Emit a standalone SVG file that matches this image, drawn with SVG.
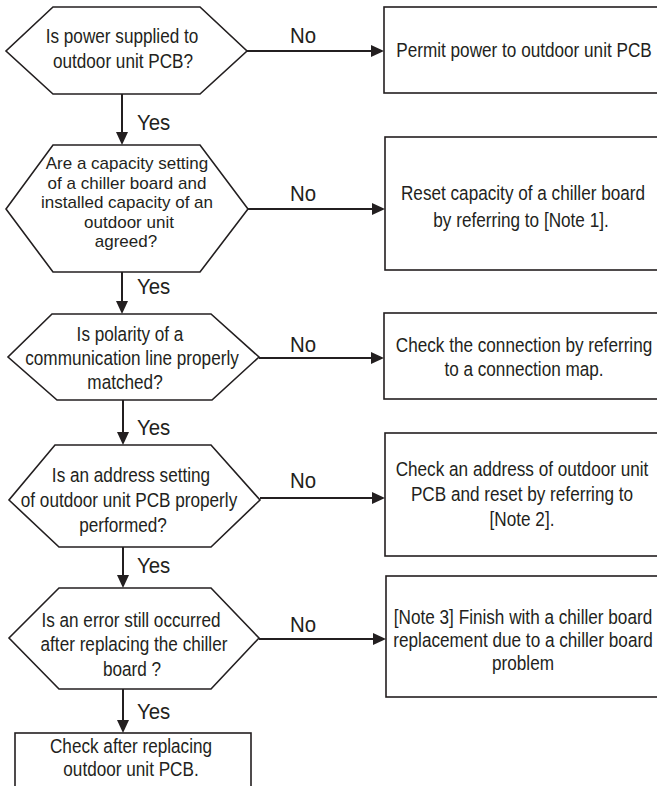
<svg xmlns="http://www.w3.org/2000/svg" width="657" height="786" viewBox="0 0 657 786">
<style>
.shape{fill:#fff;stroke:#231f20;stroke-width:1.6}
.t{font-family:"Liberation Sans",Arial,sans-serif;font-size:19.5px;fill:#231f20;text-anchor:middle}
.ts{font-family:"Liberation Sans",Arial,sans-serif;font-size:17px;fill:#231f20;text-anchor:middle}
.lbl{font-family:"Liberation Sans",Arial,sans-serif;font-size:21.5px;fill:#231f20}
.conn{fill:none;stroke:#231f20;stroke-width:2}
</style>
<defs>
<marker id="ah" markerUnits="userSpaceOnUse" markerWidth="13" markerHeight="12" viewBox="0 0 13 12" refX="11" refY="6" orient="auto">
<path d="M0,0 L13,6 L0,12 Z" fill="#231f20"/>
</marker>
</defs>
<rect width="657" height="786" fill="#fff"/>

<g id="d1">
<polygon class="shape" points="53,7 200,7 247,51 200,94 53,94 6,51"/>
<text class="t" transform="translate(122,43) scale(0.88,1)">Is power supplied to</text>
<text class="t" transform="translate(123,68) scale(0.88,1)">outdoor unit PCB?</text>
</g>
<g id="b1">
<rect class="shape" x="384" y="7" width="280" height="86"/>
<text class="t" transform="translate(524,57) scale(0.88,1)">Permit power to outdoor unit PCB</text>
</g>

<g id="d2">
<polygon class="shape" points="53,145 200,145 248,209 200,272 53,272 6,209"/>
<text class="ts" x="127" y="169">Are a capacity setting</text>
<text class="ts" x="127" y="188.5">of a chiller board and</text>
<text class="ts" x="127" y="208">installed capacity of an</text>
<text class="ts" x="129" y="227.5">outdoor unit</text>
<text class="ts" x="126" y="247">agreed?</text>
</g>
<g id="b2">
<rect class="shape" x="385" y="137" width="280" height="133"/>
<text class="t" transform="translate(523,200) scale(0.88,1)">Reset capacity of a chiller board</text>
<text class="t" transform="translate(521,227) scale(0.88,1)">by referring to [Note 1].</text>
</g>

<g id="d3">
<polygon class="shape" points="52,314 211,314 259,357 212,400 57,400 8,357"/>
<text class="t" transform="translate(130,341) scale(0.88,1)">Is polarity of a</text>
<text class="t" transform="translate(132,365) scale(0.88,1)">communication line properly</text>
<text class="t" transform="translate(125,389) scale(0.88,1)">matched?</text>
</g>
<g id="b3">
<rect class="shape" x="384" y="313" width="280" height="86"/>
<text class="t" transform="translate(524,352) scale(0.88,1)">Check the connection by referring</text>
<text class="t" transform="translate(524,376) scale(0.88,1)">to a connection map.</text>
</g>

<g id="d4">
<polygon class="shape" points="55,445 211,445 260,500 211,547 59,547 9,500"/>
<text class="t" transform="translate(131,482) scale(0.88,1)">Is an address setting</text>
<text class="t" transform="translate(129,507) scale(0.88,1)">of outdoor unit PCB properly</text>
<text class="t" transform="translate(123,532) scale(0.88,1)">performed?</text>
</g>
<g id="b4">
<rect class="shape" x="385" y="433" width="280" height="123"/>
<text class="t" transform="translate(522,476) scale(0.88,1)">Check an address of outdoor unit</text>
<text class="t" transform="translate(522,501) scale(0.88,1)">PCB and reset by referring to</text>
<text class="t" transform="translate(522,526) scale(0.88,1)">[Note 2].</text>
</g>

<g id="d5">
<polygon class="shape" points="59,588 211,588 259,638 211,689 59,689 9,638"/>
<text class="t" transform="translate(131,627) scale(0.88,1)">Is an error still occurred</text>
<text class="t" transform="translate(134,651) scale(0.88,1)">after replacing the chiller</text>
<text class="t" transform="translate(132,676) scale(0.88,1)">board ?</text>
</g>
<g id="b5">
<rect class="shape" x="386" y="576" width="280" height="121"/>
<text class="t" transform="translate(523,624) scale(0.88,1)">[Note 3] Finish with a chiller board</text>
<text class="t" transform="translate(523,647) scale(0.88,1)">replacement due to a chiller board</text>
<text class="t" transform="translate(523,670) scale(0.88,1)">problem</text>
</g>

<g id="b6">
<rect class="shape" x="15" y="733" width="236" height="70"/>
<text class="t" transform="translate(131,753) scale(0.88,1)">Check after replacing</text>
<text class="t" transform="translate(131,776) scale(0.88,1)">outdoor unit PCB.</text>
</g>

<g id="connectors">
<line class="conn" x1="247" y1="51" x2="382" y2="51" marker-end="url(#ah)"/>
<line class="conn" x1="248" y1="209" x2="383" y2="209" marker-end="url(#ah)"/>
<line class="conn" x1="259" y1="358" x2="382" y2="358" marker-end="url(#ah)"/>
<line class="conn" x1="260" y1="498" x2="383" y2="498" marker-end="url(#ah)"/>
<line class="conn" x1="259" y1="639" x2="384" y2="639" marker-end="url(#ah)"/>
<line class="conn" x1="122" y1="94" x2="122" y2="143" marker-end="url(#ah)"/>
<line class="conn" x1="122" y1="272" x2="122" y2="312" marker-end="url(#ah)"/>
<line class="conn" x1="123" y1="400" x2="123" y2="443" marker-end="url(#ah)"/>
<line class="conn" x1="123" y1="547" x2="123" y2="586" marker-end="url(#ah)"/>
<line class="conn" x1="123" y1="689" x2="123" y2="731" marker-end="url(#ah)"/>
<text class="lbl" transform="translate(290,43) scale(0.95,1)">No</text>
<text class="lbl" transform="translate(290,201) scale(0.95,1)">No</text>
<text class="lbl" transform="translate(290,352) scale(0.95,1)">No</text>
<text class="lbl" transform="translate(290,488) scale(0.95,1)">No</text>
<text class="lbl" transform="translate(290,632) scale(0.95,1)">No</text>
<text class="lbl" transform="translate(137,130) scale(0.95,1)">Yes</text>
<text class="lbl" transform="translate(137,294) scale(0.95,1)">Yes</text>
<text class="lbl" transform="translate(137,435) scale(0.95,1)">Yes</text>
<text class="lbl" transform="translate(137,573) scale(0.95,1)">Yes</text>
<text class="lbl" transform="translate(137,719) scale(0.95,1)">Yes</text>
</g>
</svg>
